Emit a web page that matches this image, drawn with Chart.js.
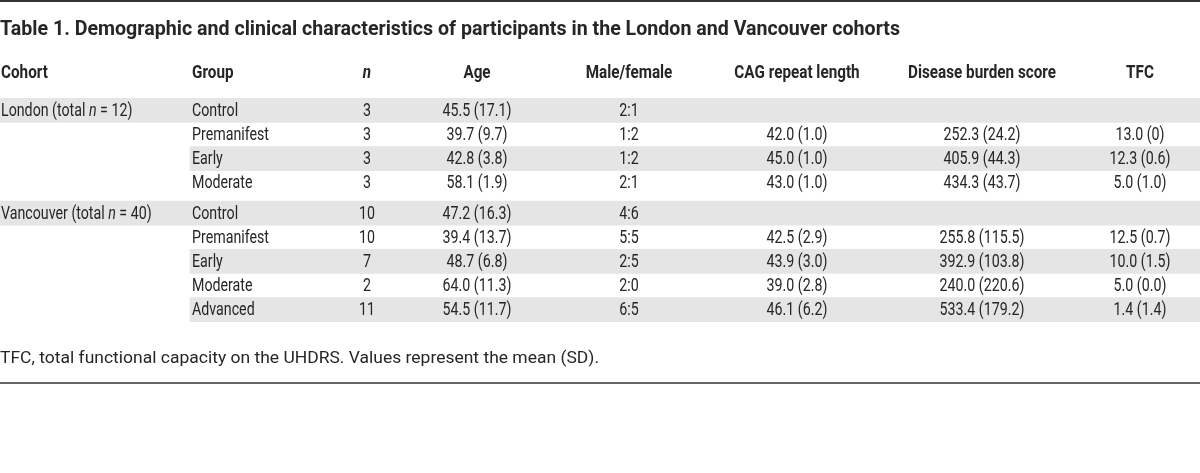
<!DOCTYPE html>
<html>
<head>
<meta charset="utf-8">
<title>Table 1</title>
<script src="https://cdn.jsdelivr.net/npm/chart.js@4.4.1/dist/chart.umd.min.js"></script>
<style>
  html, body { margin: 0; padding: 0; background: #fff; }
  #wrap { width: 1200px; height: 473px; }
</style>
</head>
<body>
<div id="wrap"><canvas id="chartCanvas" width="1200" height="473"></canvas></div>
<script>
// --- table data ---
const titleText = "Table 1. Demographic and clinical characteristics of participants in the London and Vancouver cohorts";
const footnoteText = "TFC, total functional capacity on the UHDRS. Values represent the mean (SD).";
const columns = ["Cohort", "Group", "n", "Age", "Male/female", "CAG repeat length", "Disease burden score", "TFC"];
const cohorts = ["London", "Vancouver"];
const cohortTotals = [12, 40];
const rowCohort = [0, 0, 0, 0, 1, 1, 1, 1, 1];
const groups = ["Control", "Premanifest", "Early", "Moderate", "Control", "Premanifest", "Early", "Moderate", "Advanced"];
const nValues = [3, 3, 3, 3, 10, 10, 7, 2, 11];
const ageValues = ["45.5 (17.1)", "39.7 (9.7)", "42.8 (3.8)", "58.1 (1.9)", "47.2 (16.3)", "39.4 (13.7)", "48.7 (6.8)", "64.0 (11.3)", "54.5 (11.7)"];
const sexRatio = ["2:1", "1:2", "1:2", "2:1", "4:6", "5:5", "2:5", "2:0", "6:5"];
const cagValues = ["", "42.0 (1.0)", "45.0 (1.0)", "43.0 (1.0)", "", "42.5 (2.9)", "43.9 (3.0)", "39.0 (2.8)", "46.1 (6.2)"];
const burdenValues = ["", "252.3 (24.2)", "405.9 (44.3)", "434.3 (43.7)", "", "255.8 (115.5)", "392.9 (103.8)", "240.0 (220.6)", "533.4 (179.2)"];
const tfcValues = ["", "13.0 (0)", "12.3 (0.6)", "5.0 (1.0)", "", "12.5 (0.7)", "10.0 (1.5)", "5.0 (0.0)", "1.4 (1.4)"];

// --- layout (x in px of the hidden linear x scale, y in row units) ---
const cohortGap = 0.26;
const colLeft = { cohort: 1, group: 192 };
const colCenter = { n: 367, age: 477, sex: 629, cag: 797, burden: 982, tfc: 1140 };
const bandStart = { cohort: 0, group: 190 };
const bandEnd = 1200;
const textColor = "#262626";
const bandColor = "#e5e5e5";
const FAMILY = "Roboto, 'Noto Sans', sans-serif";

// row index inside its cohort (0 = first row, carries the cohort label)
const withinIdx = rowCohort.map((c, i) => i - rowCohort.indexOf(c));
const rowPos = rowCohort.map((c, i) => i + 0.5 + (c > 0 ? cohortGap * c : 0));

const bandData = rowPos.map((p, i) => ({
  x: [withinIdx[i] === 0 ? bandStart.cohort : bandStart.group, bandEnd],
  y: p
}));
const bandColors = withinIdx.map(w => (w % 2 === 0 ? bandColor : "rgba(0,0,0,0)"));

// --- text helpers (condensed look via horizontal scale) ---
function textWidth(ctx, str, font, sx) {
  ctx.save();
  ctx.font = font;
  const w = ctx.measureText(str).width * sx;
  ctx.restore();
  return w;
}

function drawRuns(ctx, runs, px, py, sx, align) {
  const total = runs.reduce((s, r) => s + textWidth(ctx, r.t, r.font, sx), 0);
  let left = px;
  if (align === "center") left = px - total / 2;
  runs.forEach(r => {
    ctx.save();
    ctx.font = r.font;
    ctx.fillStyle = textColor;
    ctx.textAlign = "left";
    ctx.textBaseline = "middle";
    ctx.translate(left, py);
    ctx.scale(sx, 1);
    ctx.fillText(r.t, 0, 0);
    ctx.restore();
    left += textWidth(ctx, r.t, r.font, sx);
  });
}

const tablePlugin = {
  id: "tableText",
  afterDatasetsDraw(chart) {
    const { ctx, chartArea, scales: { x, y } } = chart;
    const body = "400 17.5px " + FAMILY;
    const bodyIt = "italic 400 17.5px " + FAMILY;
    const head = "700 17.5px " + FAMILY;
    const headIt = "italic 700 17.5px " + FAMILY;
    const titleFont = "700 20px " + FAMILY;
    const noteFont = "400 17px " + FAMILY;

    // condensing factors
    const sxBody = 77 / textWidth(ctx, "Premanifest", body, 1);
    const sxHead = 148 / textWidth(ctx, "Disease burden score", head, 1);
    const sxTitle = 900 / textWidth(ctx, titleText, titleFont, 1);
    const sxNote = 599 / textWidth(ctx, footnoteText, noteFont, 1);

    // rules
    ctx.save();
    ctx.fillStyle = "#333";
    ctx.fillRect(0, 0, chart.width, 2);
    ctx.fillStyle = "#666";
    ctx.fillRect(0, chartArea.bottom + 48, chart.width, 2);
    ctx.restore();

    // title
    drawRuns(ctx, [{ t: titleText, font: titleFont }], x.getPixelForValue(colLeft.cohort) - 1, chartArea.top - 56, sxTitle, "left");

    // header
    const hy = chartArea.top - 12;
    drawRuns(ctx, [{ t: columns[0], font: head }], x.getPixelForValue(colLeft.cohort), hy, sxHead, "left");
    drawRuns(ctx, [{ t: columns[1], font: head }], x.getPixelForValue(colLeft.group), hy, sxHead, "left");
    drawRuns(ctx, [{ t: columns[2], font: headIt }], x.getPixelForValue(colCenter.n), hy, sxHead, "center");
    const centerCols = ["age", "sex", "cag", "burden", "tfc"];
    centerCols.forEach((k, j) => {
      drawRuns(ctx, [{ t: columns[3 + j], font: head }], x.getPixelForValue(colCenter[k]), hy, sxHead, "center");
    });

    // body rows
    groups.forEach((g, i) => {
      const py = y.getPixelForValue(rowPos[i]) + 1;
      if (withinIdx[i] === 0) {
        const c = rowCohort[i];
        drawRuns(ctx, [
          { t: cohorts[c] + " (total ", font: body },
          { t: "n", font: bodyIt },
          { t: " = " + cohortTotals[c] + ")", font: body }
        ], x.getPixelForValue(colLeft.cohort), py, sxBody, "left");
      }
      drawRuns(ctx, [{ t: g, font: body }], x.getPixelForValue(colLeft.group), py, sxBody, "left");
      const cells = [String(nValues[i]), ageValues[i], sexRatio[i], cagValues[i], burdenValues[i], tfcValues[i]];
      const keys = ["n", "age", "sex", "cag", "burden", "tfc"];
      cells.forEach((v, j) => {
        if (v) drawRuns(ctx, [{ t: v, font: body }], x.getPixelForValue(colCenter[keys[j]]), py, sxBody, "center");
      });
    });

    // footnote
    drawRuns(ctx, [{ t: footnoteText, font: noteFont }], x.getPixelForValue(colLeft.cohort) - 1, chartArea.bottom + 25, sxNote, "left");
  }
};

const canvas = document.getElementById("chartCanvas");
new Chart(canvas, {
  type: "bar",
  data: {
    datasets: [{
      label: "row shading",
      data: bandData,
      backgroundColor: bandColors,
      borderWidth: 0,
      categoryPercentage: 1,
      barPercentage: 1
    }]
  },
  options: {
    indexAxis: "y",
    responsive: false,
    animation: false,
    devicePixelRatio: 1,
    events: [],
    layout: { padding: { top: 86, bottom: 139, left: 0, right: 0 } },
    scales: {
      x: { type: "linear", display: false, min: 0, max: 1200 },
      y: { type: "linear", display: false, reverse: true, min: 0, max: 9 + cohortGap, ticks: { stepSize: 1 } }
    },
    plugins: {
      legend: { display: false },
      tooltip: { enabled: false },
      title: { display: false }
    }
  },
  plugins: [tablePlugin]
});
</script>
</body>
</html>
